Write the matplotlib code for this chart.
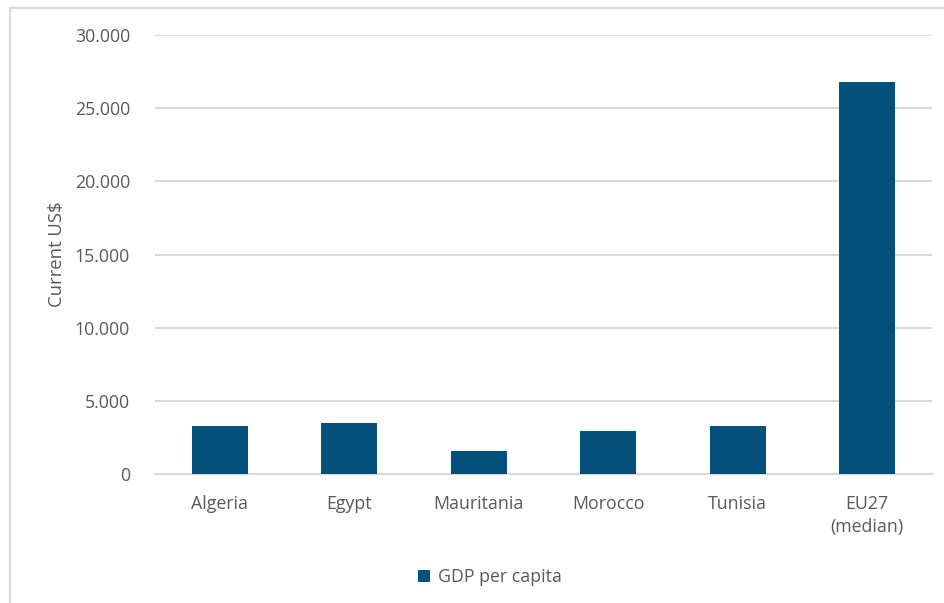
import matplotlib
matplotlib.use("Agg")
import matplotlib.pyplot as plt
from matplotlib.ticker import FuncFormatter, MultipleLocator
from matplotlib.lines import Line2D
import numpy as np

# GDP per capita, current US$
countries = ["Algeria", "Egypt", "Mauritania", "Morocco", "Tunisia", "EU27\n(median)"]
gdp_per_capita = [3250, 3490, 1600, 2940, 3250, 26790]

bar_color = "#03507a"
text_color = "#595959"
grid_color = "#d9d9d9"

plt.rcParams["font.family"] = ["Open Sans", "DejaVu Sans"]

fig = plt.figure(figsize=(9.44, 6.03), dpi=100)
ax = fig.add_axes([155 / 944, 1 - 474 / 603, (932 - 155) / 944, (474 - 35) / 603])

x = np.arange(len(countries))
ax.bar(x, gdp_per_capita, width=0.436, color=bar_color, label="GDP per capita", zorder=3)

ax.set_xlim(-0.5, len(countries) - 0.5)
ax.set_ylim(0, 30000)
ax.yaxis.set_major_locator(MultipleLocator(5000))
ax.yaxis.set_major_formatter(FuncFormatter(lambda v, p: f"{int(v):,}".replace(",", ".")))
ax.set_xticks(x)
ax.set_xticklabels(countries, linespacing=1.4)

ax.grid(axis="y", color=grid_color, linewidth=1.5, zorder=0)
for side in ["top", "right", "left"]:
    ax.spines[side].set_visible(False)
ax.spines["bottom"].set_color(grid_color)
ax.spines["bottom"].set_linewidth(1.5)
ax.tick_params(axis="both", length=0, labelsize=12.8, colors=text_color)
ax.tick_params(axis="y", pad=18)
ax.tick_params(axis="x", pad=15)

fig.text(57 / 944, 1 - 254 / 603, "Current US$", rotation=90, ha="center", va="center",
         fontsize=13.3, color=text_color)

leg = fig.legend(loc="center", bbox_to_anchor=(490 / 944, 1 - 577 / 603), frameon=False,
                 fontsize=12.8, handlelength=0.65, handleheight=0.65, handletextpad=0.45)
for t in leg.get_texts():
    t.set_color(text_color)

# chart area border
fig.add_artist(Line2D([10 / 944, 1], [1 - 8 / 603] * 2, transform=fig.transFigure,
                      color=grid_color, linewidth=1.5))
fig.add_artist(Line2D([10 / 944] * 2, [0, 1 - 8 / 603], transform=fig.transFigure,
                      color=grid_color, linewidth=1.5))

fig.savefig("out.png", dpi=100, facecolor="white")
